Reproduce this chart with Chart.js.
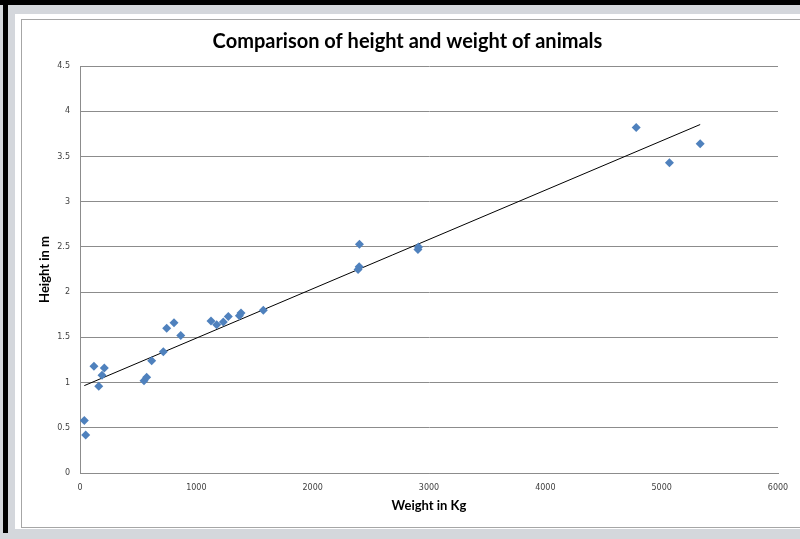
<!DOCTYPE html>
<html>
<head>
<meta charset="utf-8">
<script src="https://cdn.jsdelivr.net/npm/chart.js@4"></script>
<style>
  html, body { margin: 0; padding: 0; width: 800px; height: 539px; overflow: hidden; background: #d4d7dc; }
  #blackTop { position: absolute; left: 0; top: 0; width: 800px; height: 5px; background: #000; }
  #blackLeft { position: absolute; left: 3px; top: 0; width: 5px; height: 533px; background: #000; }
  #panel { position: absolute; left: 15px; top: 14px; width: 785px; height: 515px; background: #fff; }
  #inner { position: absolute; left: 21px; top: 19px; width: 790px; height: 507px; border: 1px solid #a6a6a6; background: #fff; }
  #wrap { position: absolute; left: 0; top: 0; width: 800px; height: 539px; }
</style>
</head>
<body>
<div id="blackTop"></div>
<div id="blackLeft"></div>
<div id="panel"></div>
<div id="inner"></div>
<div id="wrap"><canvas id="c" width="800" height="539"></canvas></div>
<script>
const chartTitle = 'Comparison of height and weight of animals';
const xAxisTitle = 'Weight in Kg';
const yAxisTitle = 'Height in m';

const weightKg = [37, 49, 120, 161, 189, 209, 550, 573, 616, 716, 745, 808, 866, 1126, 1175, 1232, 1275, 1370, 1384, 1576, 2402, 2400, 2390, 2910, 2905, 4781, 5067, 5331];
const heightM  = [0.58, 0.42, 1.18, 0.96, 1.08, 1.16, 1.02, 1.06, 1.24, 1.34, 1.60, 1.66, 1.52, 1.68, 1.64, 1.67, 1.73, 1.74, 1.77, 1.80, 2.53, 2.28, 2.25, 2.50, 2.47, 3.82, 3.43, 3.64];

const trendX = [37, 5331];
const trendY = [0.966, 3.853];

const xTicks = [0, 1000, 2000, 3000, 4000, 5000, 6000];
const yTicks = [0, 0.5, 1, 1.5, 2, 2.5, 3, 3.5, 4, 4.5];

const points = weightKg.map((w, i) => ({ x: w, y: heightM[i] }));
const trend = trendX.map((w, i) => ({ x: w, y: trendY[i] }));

new Chart(document.getElementById('c'), {
  type: 'scatter',
  data: {
    datasets: [
      {
        label: 'Height',
        data: points,
        pointStyle: 'rectRot',
        pointRadius: 4.5,
        backgroundColor: '#4f81bd',
        borderColor: '#4f81bd',
        borderWidth: 0,
        order: 1
      },
      {
        type: 'line',
        label: 'Trend',
        data: trend,
        borderColor: '#000',
        borderWidth: 1,
        pointRadius: 0,
        fill: false,
        order: 2
      }
    ]
  },
  options: {
    responsive: false,
    animation: false,
    layout: { padding: { left: 37, right: 22, top: 0, bottom: 20 } },
    plugins: {
      legend: { display: false },
      tooltip: { enabled: false },
      title: {
        display: true,
        text: chartTitle,
        color: '#000',
        font: { family: 'Lato', size: 20, weight: 'bold', lineHeight: 1.2 },
        padding: { top: 30, bottom: 12 }
      }
    },
    scales: {
      x: {
        type: 'linear',
        min: 0, max: 6000,
        afterBuildTicks: s => { s.ticks = xTicks.map(v => ({ value: v })); },
        afterFit: s => { s.height = 46; },
        grid: { display: false, drawTicks: false },
        border: { display: true, color: '#8c8c8c', width: 1 },
        ticks: { padding: 10, color: '#404040', font: { family: 'DejaVu Sans', size: 8 }, maxRotation: 0, callback: v => String(v) },
        title: { display: true, text: xAxisTitle, color: '#000', font: { family: 'Lato', size: 13, weight: 'bold', lineHeight: 1.2 }, padding: { top: 0, bottom: 5 } }
      },
      y: {
        type: 'linear',
        min: 0, max: 4.5,
        afterBuildTicks: s => { s.ticks = yTicks.map(v => ({ value: v })); },
        afterFit: s => { s.width = 43; },
        grid: { color: '#8c8c8c', lineWidth: 1, drawTicks: false },
        border: { display: true, color: '#8c8c8c', width: 1 },
        ticks: { padding: 10, color: '#404040', font: { family: 'DejaVu Sans', size: 8 }, callback: v => String(v) },
        title: { display: true, text: yAxisTitle, color: '#000', font: { family: 'Lato', size: 13, weight: 'bold', lineHeight: 1.2 }, padding: { top: 0, bottom: 0 } }
      }
    }
  }
});
</script>
</body>
</html>
